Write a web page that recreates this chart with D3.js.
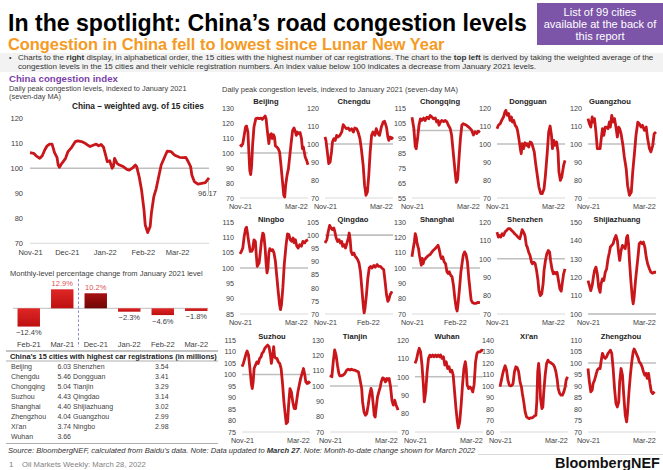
<!DOCTYPE html>
<html>
<head>
<meta charset="utf-8">
<script src="https://cdn.jsdelivr.net/npm/d3@7"></script>
<style>
  body { margin: 0; background: #fff; }
  svg { display: block; font-family: "Liberation Sans", Arial, sans-serif; }
</style>
</head>
<body>
<svg id="chart" width="663" height="470"></svg>
<script>
// ---------- Data ----------
// Series are [days since 1 Nov 2021, index value] (seven-day MA, Jan 2021 = 100)
const START_DATE = "2021-11-01";
const LAST_DAY = 146; // 27 Mar 2022

const chinaIndex = [[0,106.3],[3,106],[5,105],[8,104],[10,105],[12,107.3],[14,109],[16,109.7],[18,109.7],[19,108],[20,106.3],[22,104.4],[23,101.3],[24,100.4],[26,102],[29,104],[31,106.7],[34,108.4],[37,110.7],[39,111],[42,110.7],[45,110],[48,109],[49,108.7],[52,109.3],[54,109.7],[56,109],[58,109.5],[60,108.4],[62,104.7],[63,102.7],[65,103],[67,100],[68,100.7],[69,104],[71,102],[73,101.3],[76,100.7],[79,99.6],[81,99.3],[84,100.3],[86,101.3],[87,100.7],[89,96.7],[91,91.3],[93,83.3],[94,77.3],[96,74.3],[98,76.7],[99,82],[101,88.7],[103,92],[105,96.7],[107,101.3],[110,104.7],[112,106.9],[115,106.7],[117,105.7],[119,105],[122,104.4],[125,104.3],[127,104.4],[129,102.7],[131,100.7],[132,97.3],[134,94.7],[137,93.7],[140,94],[143,94.3],[146,96.17]];
const chinaLatest = 96.17;
const mainYTicks = [70, 80, 90, 100, 110, 120];
const mainXLabels = ["Nov-21", "Dec-21", "Jan-22", "Feb-22", "Mar-22"];

const barMonths = ["Feb-21", "Mar-21", "Dec-21", "Jan-22", "Feb-22", "Mar-22"];
const barValues = [-12.4, 12.9, 10.2, -2.3, -4.6, -1.8];

const regCitiesA = ["Beijing", "Chengdu", "Chongqing", "Suzhou", "Shanghai", "Zhengzhou", "Xi'an", "Wuhan"];
const regValuesA = [6.03, 5.46, 5.04, 4.43, 4.40, 4.04, 3.74, 3.66];
const regCitiesB = ["Shenzhen", "Dongguan", "Tianjin", "Qingdao", "Shijiazhuang", "Guangzhou", "Ningbo"];
const regValuesB = [3.54, 3.41, 3.29, 3.14, 3.02, 2.99, 2.98];

const beijing = [[0,105.6],[3,104.7],[6,106.2],[9,111.8],[12,117.3],[14,118],[17,114],[19,100.7],[21,88.4],[23,85.6],[25,91.8],[27,105.1],[30,117.3],[34,122.9],[38,123.3],[41,122.9],[45,123.3],[48,122.4],[52,123.8],[54,124.7],[56,122.9],[59,114],[62,106.2],[64,111.8],[67,112.9],[69,109.6],[72,112.2],[74,110.7],[76,104.7],[79,104],[82,102.9],[85,100.7],[88,91.8],[92,78.4],[94,71.8],[96,70.7],[98,78.4],[101,85.1],[104,89.6],[107,98.4],[110,107.3],[113,115.1],[116,116.7],[119,114],[121,111.8],[123,114],[126,112.9],[129,113.6],[132,109.6],[134,102.9],[136,104],[138,100.7],[140,97.3],[143,95.1],[146,92.2]];
const chengdu = [[0,103.9],[2,102],[5,95.6],[8,89.1],[11,90],[14,95.6],[16,101.1],[19,103],[22,102],[25,104.8],[28,103.9],[32,104.8],[36,106.7],[39,110.7],[43,109.4],[46,108.5],[50,108.9],[53,107.6],[57,108.5],[61,106.7],[64,108.9],[68,108.5],[71,106.7],[75,103],[78,97.4],[82,88.1],[85,77],[88,71.5],[91,73.3],[94,82.6],[97,95.6],[100,104.8],[103,106.7],[107,104.8],[110,108.5],[114,105.7],[117,104.8],[121,109.4],[125,112.2],[128,112.6],[132,109.4],[135,103.9],[137,102],[140,103.9],[143,103],[146,103.9]];
const chongqing = [[0,108.9],[4,101.3],[7,89.3],[9,87.8],[12,94.8],[15,103.5],[18,107.8],[21,106.7],[25,108.3],[28,106.7],[32,108.9],[36,107.8],[39,110],[43,108.9],[46,107.8],[50,108.3],[53,105.7],[56,106.7],[58,103.5],[61,105.7],[64,106.7],[68,105.9],[71,106.7],[75,105.7],[78,103.5],[82,101.3],[85,97],[89,83.9],[93,70.9],[95,65.4],[98,67.6],[101,81.7],[104,94.8],[107,103.5],[110,104.6],[114,103.9],[117,103.5],[121,102.4],[125,101.3],[128,100.2],[132,97],[135,99.1],[139,98],[142,99.6],[146,98.7]];
const dongguan = [[0,108.5],[3,110.4],[7,111.3],[10,113.1],[14,115],[17,117.8],[19,118.7],[22,115.9],[25,116.9],[28,113.1],[31,115],[33,112.2],[36,113.1],[39,110.4],[42,109.4],[44,107.6],[47,103],[50,97.4],[52,94.6],[54,100.2],[57,97.4],[60,100.7],[63,99.3],[65,100.2],[68,98.3],[71,101.1],[74,100.7],[76,99.3],[80,95.6],[83,89.1],[87,81.7],[90,76.1],[94,72.4],[97,72.4],[101,75.2],[104,82.6],[108,95.6],[111,106.7],[114,110],[117,104.8],[119,97.4],[122,102],[125,99.3],[128,101.1],[131,95.6],[133,84.4],[136,79.8],[139,81.7],[143,88.1],[146,90.9]];
const guangzhou = [[0,114.1],[3,111.3],[6,109.4],[9,115],[11,112.2],[14,114.1],[17,106.7],[20,97.4],[23,97.4],[26,97.4],[28,102],[31,108.5],[34,104.8],[37,109.4],[40,109.4],[43,108.5],[46,112.2],[48,109.4],[51,115.9],[54,112.2],[57,114.1],[60,109.4],[63,103.9],[66,109.4],[68,108.5],[71,105.7],[75,99.3],[78,92.8],[82,86.3],[85,77],[89,71.5],[93,73.3],[96,84.4],[100,95.6],[103,104.8],[107,112.2],[110,111.3],[114,109.4],[117,110.4],[121,107.6],[125,109.4],[128,103],[132,97.4],[135,95.6],[139,99.3],[142,105.7],[146,106.7]];
const ningbo = [[0,104.6],[3,105.4],[6,106.5],[9,110.3],[12,112.8],[14,113.3],[16,111.4],[19,108.2],[22,105.4],[25,105.4],[27,106],[30,109.2],[33,108.7],[35,104.3],[37,100.5],[39,101.1],[41,101.6],[43,104.3],[46,108.7],[49,111.4],[51,110.9],[54,106.5],[56,101.6],[58,98.4],[60,100],[62,104.9],[64,106.3],[67,105.7],[70,106],[73,104.9],[76,102.2],[79,97.3],[82,92.4],[85,88],[87,86.4],[89,88],[92,93.5],[95,101.1],[99,107.6],[102,111.1],[105,110.9],[108,109.2],[111,108.7],[114,109.8],[116,108.2],[119,109.2],[122,107.1],[125,106.5],[128,107.6],[132,107.1],[135,108.7],[139,108.2],[142,108.9],[146,109.2]];
const qingdao = [[0,97],[4,98.3],[7,101.4],[10,103.7],[13,102.7],[16,102.1],[19,102.7],[21,101.4],[24,98.9],[27,97.6],[30,98.3],[33,97],[36,97.6],[38,95.7],[41,96.4],[44,95.1],[47,97],[50,98.9],[52,100.8],[54,98.3],[56,93.8],[59,92.6],[62,93.2],[65,91.9],[68,91.3],[70,90.7],[73,89.4],[76,86.2],[79,79.9],[82,73.6],[84,70.4],[86,72.3],[89,77.4],[92,83.7],[95,87.5],[98,88.1],[101,87.5],[105,88.5],[108,87.8],[112,88.8],[115,88.1],[119,88.1],[122,87.5],[126,86.9],[129,82.4],[132,77.4],[135,74.8],[137,75.5],[140,77.4],[144,78.6]];
const shanghai = [[0,107.3],[2,111.6],[5,117],[7,122.4],[9,120.3],[11,115.9],[14,112.7],[16,108.3],[18,105.1],[20,101.8],[22,106.2],[24,102.9],[26,105.1],[29,106.2],[32,107.3],[36,108.3],[39,108.8],[43,110.5],[46,111.6],[50,112.7],[53,113.8],[56,114.8],[58,112.7],[61,108.3],[63,106.2],[66,107.3],[69,104],[72,102.9],[75,97.5],[78,96.4],[80,97.5],[83,95.3],[86,94.3],[89,88.8],[92,80.2],[95,73.7],[97,72],[99,76.9],[102,86.7],[105,97.5],[108,104],[110,108.3],[113,110.5],[116,108.8],[119,104],[122,93.2],[125,84.5],[127,79.1],[130,77.4],[134,76.9],[137,76.9],[141,77.6],[146,77.4]];
const shenzhen = [[0,114.5],[3,111.8],[6,112.7],[8,111.8],[11,113.6],[14,112.7],[17,114.5],[21,115.5],[24,116.4],[28,116.4],[31,115.5],[35,114.5],[38,113.6],[42,112.7],[45,111.8],[49,110.9],[51,112.7],[54,115.8],[57,114.5],[60,112.7],[63,107.3],[65,106.4],[68,103.6],[71,101.8],[74,98.2],[76,97.3],[79,98.2],[82,97.3],[85,93.6],[88,88.2],[90,82.7],[93,80],[96,80.9],[99,86.4],[101,93.6],[104,99.1],[107,102.7],[110,104.5],[113,103.6],[115,99.1],[118,94.5],[121,91.8],[124,92.7],[126,91.8],[129,92.7],[132,88.2],[135,83.6],[138,82.4],[140,86.4],[143,91.8],[146,94.5]];
const shijiazhuang = [[0,118.2],[3,115.5],[6,112.7],[9,115.5],[11,119.1],[14,123.6],[17,125.5],[20,121.8],[23,114.5],[26,111.8],[28,116.4],[31,119.1],[34,118.2],[37,122.7],[40,124.5],[43,130],[46,133.6],[48,136.4],[51,137.3],[54,138.2],[57,140.9],[60,142.7],[63,140],[66,132.7],[68,129.1],[71,134.5],[74,137.3],[77,136.4],[80,135.5],[83,141.8],[85,142.7],[87,138.2],[89,129.1],[92,118.2],[95,109.1],[97,105.5],[99,109.1],[102,118.2],[105,125.5],[108,132.7],[110,138.2],[113,139.1],[116,138.2],[119,139.1],[122,136.4],[125,130.9],[128,127.3],[132,124.5],[135,122.7],[139,122.2],[142,122.7],[146,122.7]];
const suzhou = [[0,103.4],[3,104.8],[6,107],[9,109.2],[11,110.2],[14,108.5],[17,102.6],[20,96.1],[22,93.9],[24,96.8],[26,102.6],[29,104.1],[32,105.5],[35,104.8],[38,107],[41,107.7],[43,109.2],[46,109.9],[49,111.4],[52,112.1],[55,112.8],[58,112.1],[61,108.5],[63,104.8],[66,108.5],[68,112.1],[70,107.7],[73,107],[75,107],[78,105.5],[81,104.8],[84,102.6],[87,96.1],[90,88.1],[93,82.3],[95,78.6],[98,79.4],[100,86.6],[103,93.9],[106,92.4],[109,88.1],[112,85.2],[115,85.2],[117,88.1],[120,92.4],[123,95.4],[126,98.3],[129,100.5],[132,102.6],[135,99.7],[137,96.8],[140,96.1],[143,96.8],[146,96.1]];
const tianjin = [[0,107.1],[4,106],[7,115.8],[10,123.5],[13,120.2],[16,113.6],[19,108.2],[21,106.7],[25,106.7],[28,107.1],[32,108.2],[36,110.4],[39,111],[43,110.4],[46,111],[50,110.4],[53,110.4],[57,109.7],[61,109.3],[64,104.9],[68,98.4],[70,89.6],[73,83.1],[76,80.9],[79,82],[82,87.5],[85,94],[88,98.4],[90,96.3],[93,87.5],[95,80.9],[97,79.8],[99,85.3],[102,92.9],[105,96.3],[108,99.5],[110,102.7],[113,105.3],[116,104.9],[119,102.7],[122,104.9],[125,103.8],[127,104.9],[130,99.5],[133,90.7],[136,87.5],[139,90.7],[142,87.5],[145,85.3],[146,84.2]];
const wuhan = [[0,107.3],[3,109.1],[6,112.7],[9,115.5],[12,113.6],[15,106.4],[18,95.5],[20,86.4],[23,91.8],[26,102.7],[29,110],[32,111.8],[35,110.9],[38,111.8],[41,110.9],[44,111.8],[47,110.9],[50,111.8],[53,110.9],[55,111.8],[58,110],[61,110.9],[64,106.4],[67,108.2],[70,104.5],[73,105.5],[76,102.7],[79,103.6],[82,100.9],[85,91.8],[88,82.7],[91,75.5],[93,72.2],[96,75.5],[99,84.5],[102,95.5],[105,104.5],[108,108.2],[110,104.5],[112,95.5],[115,93.6],[118,94.5],[121,93.6],[124,91.8],[127,96],[130,108],[133,112.7],[136,113.6],[140,113.6],[143,114.5],[146,114.2]];
const xian = [[0,99.3],[3,105.1],[6,110.9],[9,115.3],[11,117.6],[14,113.8],[17,105.1],[20,100.7],[23,100.1],[26,100.7],[28,102.2],[31,112.4],[34,116.7],[37,115.9],[40,112.4],[43,103.6],[46,99.3],[48,93.5],[51,86.2],[54,77.5],[57,73.1],[60,72.2],[63,71.6],[65,72.2],[68,72.2],[71,72.8],[74,74],[77,74.5],[79,86.2],[81,112.4],[83,119.6],[85,109.5],[87,89.1],[90,80.4],[92,81.8],[94,94.9],[97,109.5],[100,119.6],[103,122.5],[105,121.1],[108,120.5],[111,119.6],[114,118.8],[117,116.7],[120,112.4],[123,105.1],[125,97.8],[128,93.5],[131,92],[134,92],[137,94.9],[140,99.3],[142,105.1],[145,108]];
const zhengzhou = [[0,97.6],[3,91.8],[6,87.5],[9,88.2],[11,91.1],[14,92.5],[17,94.7],[20,96.9],[23,97.6],[26,97.6],[28,100.5],[31,104.2],[34,102.7],[37,102],[40,102.7],[43,104.2],[46,104.9],[48,105.6],[51,104.2],[54,97.6],[57,88.9],[60,82.4],[63,80.9],[66,83.1],[68,91.8],[71,97.6],[74,94.7],[77,85.3],[80,77.3],[83,74.4],[85,78.7],[88,87.5],[91,94.7],[94,100.5],[97,104.9],[99,106.1],[102,104.9],[105,103.5],[108,102],[110,100.5],[113,99.8],[116,98.4],[119,96.2],[122,94.7],[125,95.5],[127,93.3],[130,95.5],[133,91.1],[136,87.5],[139,86.7],[143,87.5]];

const cityNames = ["Beijing", "Chengdu", "Chongqing", "Dongguan", "Guangzhou",
                   "Ningbo", "Qingdao", "Shanghai", "Shenzhen", "Shijiazhuang",
                   "Suzhou", "Tianjin", "Wuhan", "Xi'an", "Zhengzhou"];
const citySeries = [beijing, chengdu, chongqing, dongguan, guangzhou,
                    ningbo, qingdao, shanghai, shenzhen, shijiazhuang,
                    suzhou, tianjin, wuhan, xian, zhengzhou];
const cityYMin  = [70, 70, 55, 70, 70, 85, 70, 70, 70, 100, 75, 70, 70, 60, 70];
const cityYMax  = [130, 120, 115, 120, 120, 115, 105, 130, 120, 150, 115, 130, 120, 140, 110];
const cityYStep = [10, 10, 10, 10, 10, 5, 5, 10, 10, 10, 5, 10, 10, 10, 5];
const cityXLabels = [["Nov-21","Mar-22"],["Nov-21","Mar-22"],["Nov-21","Mar-22"],["Nov-21","Mar-22"],["Nov-21","Mar-22"],
                     ["Nov-21","Mar-22"],["Nov-21","Feb-22"],["Nov-21","Feb-22"],["Nov-21","Mar-22"],["Nov-21","Mar-22"],
                     ["Nov-21","Mar-22"],["Nov-21","Mar-22"],["Nov-21","Mar-22"],["Nov-21","Mar-22"],["Nov-21","Mar-22"]];

// ---------- Setup ----------
const svg = d3.select("#chart");
const FONT = '"Liberation Sans", Arial, sans-serif';
const RED = "#C8161B";
const REF = "#BFBFBF";
const TXT = "#404040";
const start = d3.timeParse("%Y-%m-%d")(START_DATE);
const end = d3.timeDay.offset(start, LAST_DAY);
const toDate = d => d3.timeDay.offset(start, d);
const parseMonth = d3.timeParse("%b-%y");
const fmtMonth = d3.timeFormat("%b-%y");

// scale a text element's font size so that it spans the given width
function fit(sel, width) {
  const n = sel.node().getComputedTextLength();
  const fs = parseFloat(sel.attr("font-size"));
  sel.attr("font-size", fs * width / n);
  return fs * width / n;
}
function txt(x, y, s, size, opts = {}) {
  const t = svg.append("text").attr("x", x).attr("y", y)
    .attr("font-size", size).attr("font-family", FONT)
    .attr("fill", opts.fill || TXT)
    .attr("font-weight", opts.bold ? "bold" : null)
    .attr("font-style", opts.italic ? "italic" : null)
    .attr("text-anchor", opts.anchor || "start");
  if (s !== null) t.text(s);
  return t;
}

// ---------- Header ----------
fit(txt(8, 31, "In the spotlight: China\u2019s road congestion levels", 24, {bold: true, fill: "#000"}), 519);
fit(txt(8, 50, "Congestion in China fell to lowest since Lunar New Year", 16, {bold: true, fill: "#F59A23"}), 437);

svg.append("rect").attr("x", 537).attr("y", 3).attr("width", 126).attr("height", 42).attr("fill", "#7C55A9");
["List of 99 cities", "available at the back of", "this report"].forEach((s, i) =>
  txt(600, 16 + i * 12.2, s, 11, {fill: "#fff", anchor: "middle"}));

svg.append("rect").attr("x", 0).attr("y", 53).attr("width", 663).attr("height", 19).attr("fill", "#F2F2F2");
txt(9, 60, "\u2022", 7, {fill: "#333"});
const b1 = txt(18, 60, null, 7, {fill: "#333"});
b1.append("tspan").text("Charts to the ");
b1.append("tspan").attr("font-weight", "bold").text("right");
b1.append("tspan").text(" display, in alphabetical order, the 15 cities with the highest number of car registrations. The chart to the ");
b1.append("tspan").attr("font-weight", "bold").text("top left");
b1.append("tspan").text(" is derived by taking the weighted average of the");
const bfs = fit(b1, 636);
txt(18, 68.5, "congestion levels in the 15 cities and their vehicle registration numbers. An index value below 100 indicates a decrease from January 2021 levels.", bfs, {fill: "#333"});

// ---------- China weighted index ----------
fit(txt(9, 81.5, "China congestion index", 11, {bold: true, fill: "#7B3FA8"}), 109);
const sub1 = txt(9, 90.5, "Daily peak congestion levels, indexed to January 2021", 7);
const sfs = fit(sub1, 178);
txt(9, 98.8, "(seven-day MA)", sfs);
fit(txt(72, 108.5, "China \u2013 weighted avg. of 15 cities", 8, {bold: true, fill: "#222"}), 132);

const mx = d3.scaleTime().domain([start, end]).range([30, 209]);
const my = d3.scaleLinear().domain([70, 120]).range([243.3, 118.3]);

svg.append("line").attr("x1", 30).attr("x2", 209).attr("y1", my(70)).attr("y2", my(70))
  .attr("stroke", "#D9D9D9").attr("stroke-width", 1);
svg.append("line").attr("x1", 30).attr("x2", 209).attr("y1", my(100)).attr("y2", my(100))
  .attr("stroke", REF).attr("stroke-width", 1.6);

function styleAxis(g, size) {
  g.select(".domain").remove();
  g.attr("font-family", FONT).attr("font-size", size);
  g.selectAll("text").attr("fill", TXT);
}
svg.append("g").attr("transform", "translate(30,0)")
  .call(d3.axisLeft(my).tickValues(mainYTicks).tickSize(0).tickPadding(7).tickFormat(d3.format("d")))
  .call(g => styleAxis(g, 7.5));
svg.append("g").attr("transform", `translate(0,${my(70)})`)
  .call(d3.axisBottom(mx).tickValues(mainXLabels.map(parseMonth)).tickSize(0).tickPadding(6).tickFormat(fmtMonth))
  .call(g => styleAxis(g, 7.5));

svg.append("path").datum(chinaIndex)
  .attr("fill", "none").attr("stroke", RED).attr("stroke-width", 2.8).attr("stroke-linejoin", "round")
  .attr("d", d3.line().x(d => mx(toDate(d[0]))).y(d => my(d[1])));
svg.append("line").attr("x1", mx(end) - 0.5).attr("x2", mx(end) - 0.5)
  .attr("y1", my(chinaLatest) + 3).attr("y2", my(chinaLatest) + 17).attr("stroke", "#999").attr("stroke-width", 0.6);
txt(198, 195.5, d3.format(".2f")(chinaLatest), 7.5);

// ---------- Monthly change bars ----------
fit(txt(10, 275.5, "Monthly-level percentage change from January 2021 level", 7), 193);
const bx = d3.scaleBand().domain(barMonths).range([12, 213]).paddingInner(0.33).paddingOuter(0.165);
const by = d3.scaleLinear().domain([-15, 15]).range([330.4, 286.2]);

const defs = svg.append("defs");
function grad(id, c1, c2) {
  const g = defs.append("linearGradient").attr("id", id).attr("x1", 0).attr("y1", 0).attr("x2", 0).attr("y2", 1);
  g.append("stop").attr("offset", "0%").attr("stop-color", c1);
  g.append("stop").attr("offset", "100%").attr("stop-color", c2);
}
grad("barRed", "#E02626", "#BD1010");
grad("barDark", "#A81010", "#720606");

svg.append("line").attr("x1", 13).attr("x2", 208).attr("y1", by(0)).attr("y2", by(0))
  .attr("stroke", REF).attr("stroke-width", 1);
svg.selectAll("rect.bar").data(barValues).enter().append("rect").attr("class", "bar")
  .attr("x", (d, i) => bx(barMonths[i]))
  .attr("width", bx.bandwidth())
  .attr("y", d => by(Math.max(0, d)))
  .attr("height", d => Math.abs(by(d) - by(0)))
  .attr("fill", (d, i) => barMonths[i] === "Dec-21" ? "url(#barDark)" : "url(#barRed)");
barValues.forEach((v, i) => {
  const cx = bx(barMonths[i]) + bx.bandwidth() / 2;
  const label = d3.format(".1f")(v) + "%";
  if (v >= 0) txt(cx, by(v) - 3, label, 7.5, {anchor: "middle", fill: "#E0504F"});
  else txt(cx, by(v) + 8.5, label, 7.5, {anchor: "middle"});
});
svg.append("g").attr("transform", `translate(0,${by(0)})`)
  .call(d3.axisBottom(bx).tickSize(0).tickPadding(33))
  .call(g => styleAxis(g, 7.5));
svg.append("line").attr("x1", 78.5).attr("x2", 78.5).attr("y1", 279).attr("y2", 347)
  .attr("stroke", "#7F7FC0").attr("stroke-width", 0.9).attr("stroke-dasharray", "2.5,2");

// ---------- Registrations table ----------
svg.append("line").attr("x1", 6).attr("x2", 218).attr("y1", 351).attr("y2", 351).attr("stroke", "#555").attr("stroke-width", 0.7);
fit(txt(10, 358.5, "China\u2019s 15 cities with highest car registrations (in millions)", 7, {bold: true, fill: "#222"}), 207);
svg.append("line").attr("x1", 6).attr("x2", 218).attr("y1", 361).attr("y2", 361).attr("stroke", "#777").attr("stroke-width", 0.6);
const rowY = d3.scaleLinear().domain([0, 1]).range([368.6, 378.7]);
regCitiesA.forEach((c, i) => {
  txt(11, rowY(i), c, 7);
  txt(71, rowY(i), regValuesA[i].toFixed(2), 7, {anchor: "end"});
});
regCitiesB.forEach((c, i) => {
  txt(73, rowY(i), c, 7);
  txt(155, rowY(i), regValuesB[i].toFixed(2), 7);
});
svg.append("line").attr("x1", 6).attr("x2", 218).attr("y1", 443.5).attr("y2", 443.5).attr("stroke", "#777").attr("stroke-width", 0.6);

// ---------- City small multiples ----------
fit(txt(222, 92, "Daily peak congestion levels, indexed to January 2021 (seven-day MA)", 7), 236);

const plotX = [240, 325, 412, 497, 588, 240, 325, 412, 497, 588, 242, 330, 415, 500, 588];
const titleX = [266, 354, 440, 528, 610, 271, 353, 437, 525, 617, 272, 355, 447, 529, 621];
const rowTop = [108, 222, 340];
const rowH = [90, 92, 92];
const titleY = [104, 221.5, 339];
const PW = 68;

citySeries.forEach((series, i) => {
  const row = Math.floor(i / 5);
  const x0 = plotX[i], top = rowTop[row], h = rowH[row];
  const x = d3.scaleTime().domain([start, end]).range([x0, x0 + PW]);
  const y = d3.scaleLinear().domain([cityYMin[i], cityYMax[i]]).range([top + h, top]);
  const g = svg.append("g");

  g.append("line").attr("x1", x0).attr("x2", x0 + PW).attr("y1", y(cityYMin[i])).attr("y2", y(cityYMin[i]))
    .attr("stroke", "#D9D9D9").attr("stroke-width", 1);
  g.append("line").attr("x1", x0).attr("x2", x0 + PW).attr("y1", y(100)).attr("y2", y(100))
    .attr("stroke", REF).attr("stroke-width", 1.6);

  const ticks = d3.range(cityYMin[i], cityYMax[i] + cityYStep[i] / 2, cityYStep[i]);
  g.append("g").attr("transform", `translate(${x0},0)`)
    .call(d3.axisLeft(y).tickValues(ticks).tickSize(0).tickPadding(6).tickFormat(d3.format("d")))
    .call(a => styleAxis(a, 7.2));
  g.append("g").attr("transform", `translate(0,${top + h})`)
    .call(d3.axisBottom(x).tickValues(cityXLabels[i].map(parseMonth)).tickSize(0).tickPadding(6).tickFormat(fmtMonth))
    .call(a => styleAxis(a, 7.2));

  g.append("path").datum(series)
    .attr("fill", "none").attr("stroke", RED).attr("stroke-width", 2.8).attr("stroke-linejoin", "round")
    .attr("d", d3.line().x(d => x(toDate(d[0]))).y(d => y(d[1])));

  g.append("text").attr("x", titleX[i]).attr("y", titleY[row]).attr("text-anchor", "middle")
    .attr("font-family", FONT).attr("font-size", 7.6).attr("font-weight", "bold").attr("fill", "#222")
    .text(cityNames[i]);
});

// ---------- Footer ----------
const src = txt(8, 452.5, null, 7, {italic: true, fill: "#333"});
src.append("tspan").text("Source: BloombergNEF, calculated from Baidu\u2019s data. Note: Data updated to ");
src.append("tspan").attr("font-weight", "bold").text("March 27");
src.append("tspan").text(". Note: Month-to-date change shown for March 2022");
fit(src, 468);
svg.append("line").attr("x1", 478).attr("x2", 663).attr("y1", 454.5).attr("y2", 454.5).attr("stroke", "#D0D0D0").attr("stroke-width", 0.8);
txt(9, 466.5, "1", 8, {fill: "#7F7F7F"});
fit(txt(22, 466.5, "Oil Markets Weekly: March 28, 2022", 8, {fill: "#7F7F7F"}), 124);
fit(txt(555, 468, "BloombergNEF", 16, {bold: true, fill: "#111"}), 105);
</script>
</body>
</html>
